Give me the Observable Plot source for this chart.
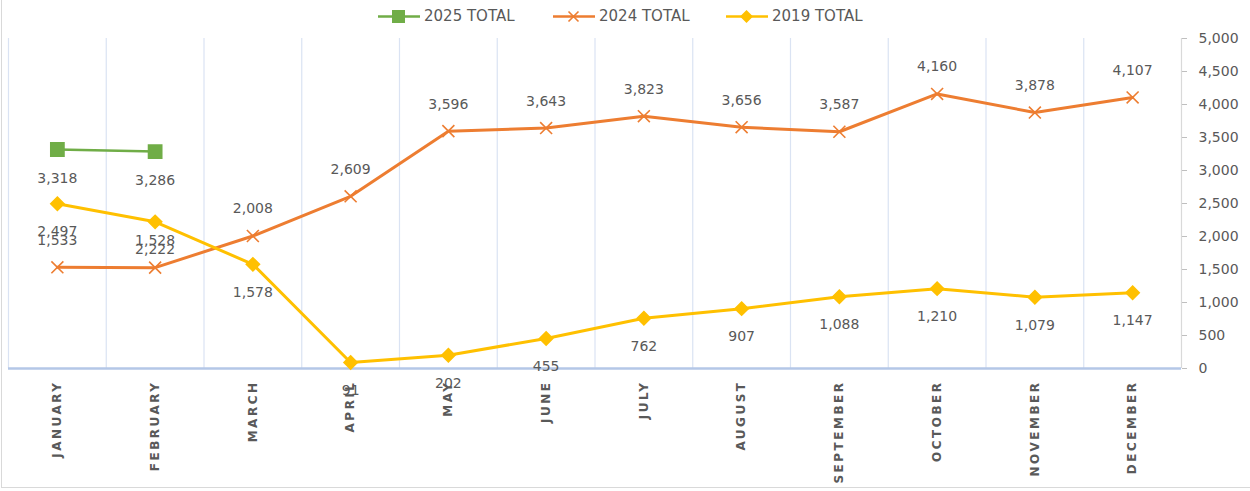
<!DOCTYPE html>
<html>
<head>
<meta charset="utf-8">
<script src="https://cdn.jsdelivr.net/npm/d3@7"></script>
<script src="https://cdn.jsdelivr.net/npm/@observablehq/plot@0.6"></script>
<style>
  html, body { margin: 0; padding: 0; background: #fff; }
  #wrap { position: relative; width: 1250px; height: 491px; overflow: hidden; font-family: "DejaVu Sans", sans-serif; }
  #frame { position: absolute; left: 1px; top: -2px; width: 1260px; height: 490px; border-left: 1px solid #d9d9d9; border-bottom: 1px solid #d9d9d9; box-sizing: border-box; pointer-events: none; }
  #legend { position: absolute; left: 0; top: 0; width: 1250px; height: 32px; }
  .item { position: absolute; top: 6px; height: 20px; display: flex; align-items: center; font-size: 15px; color: #595959; white-space: nowrap; }
  .item svg { margin-right: 4px; }
</style>
</head>
<body>
<div id="wrap">
  <div id="chart"></div>
  <div id="legend"></div>
  <div id="frame"></div>
</div>
<script>
const months = ["JANUARY","FEBRUARY","MARCH","APRIL","MAY","JUNE","JULY","AUGUST","SEPTEMBER","OCTOBER","NOVEMBER","DECEMBER"];
const total2025 = [3318, 3286];
const total2024 = [1533, 1528, 2008, 2609, 3596, 3643, 3823, 3656, 3587, 4160, 3878, 4107];
const total2019 = [2497, 2222, 1578, 91, 202, 455, 762, 907, 1088, 1210, 1079, 1147];
const yTicks = [0, 500, 1000, 1500, 2000, 2500, 3000, 3500, 4000, 4500, 5000];
const seriesNames = ["2025 TOTAL", "2024 TOTAL", "2019 TOTAL"];
const colors = ["#70ad47", "#ed7d31", "#ffc000"];

const fmt = d3.format(",");
const rows = (vals) => vals.map((v, i) => ({i, v}));
const d25 = rows(total2025), d24 = rows(total2024), d19 = rows(total2019);
const idx = d3.range(months.length);
const boundaries = d3.range(months.length).map(i => i - 0.5);

const chart = Plot.plot({
  width: 1250,
  height: 491,
  marginTop: 38,
  marginBottom: 123,
  marginLeft: 8,
  marginRight: 69,
  style: {fontFamily: "DejaVu Sans, sans-serif", color: "#595959", background: "transparent", overflow: "visible"},
  x: {domain: [-0.5, months.length - 0.5], axis: null},
  y: {domain: [0, 5000], axis: null},
  marks: [
    Plot.ruleX(boundaries, {y1: 0, y2: 5000, stroke: "#dae3f3", strokeWidth: 1.2}),
    Plot.ruleX([months.length - 0.5], {y1: 0, y2: 5000, stroke: "#d9d9d9", strokeWidth: 1.2}),
    Plot.ruleY([0], {x1: -0.5, x2: months.length - 0.5, stroke: "#b4c7e7", strokeWidth: 2.5}),
    Plot.axisY(yTicks, {anchor: "right", label: null, tickSize: 5, tickPadding: 12, tickFormat: fmt, stroke: "#bfbfbf", fill: "#595959", fontSize: 14}),
    Plot.text(idx, {x: d => d, y: 0, text: d => months[d], rotate: -90, textAnchor: "end", lineAnchor: "middle", dy: 12, fontSize: 12, fontWeight: "bold", fill: "#595959"}),
    // 2025
    Plot.line(d25, {x: "i", y: "v", stroke: colors[0], strokeWidth: 2.5}),
    Plot.dot(d25, {x: "i", y: "v", symbol: "square", r: 7.5, fill: colors[0], stroke: colors[0]}),
    // 2024
    Plot.line(d24, {x: "i", y: "v", stroke: colors[1], strokeWidth: 3}),
    Plot.dot(d24, {x: "i", y: "v", symbol: "times", r: 5.5, stroke: colors[1], strokeWidth: 1.6}),
    // 2019
    Plot.line(d19, {x: "i", y: "v", stroke: colors[2], strokeWidth: 3}),
    Plot.dot(d19, {x: "i", y: "v", symbol: "diamond2", r: 6, fill: colors[2], stroke: colors[2]}),
    // labels
    Plot.text(d25, {x: "i", y: "v", text: d => fmt(d.v), dy: 29, fontSize: 14, fill: "#595959"}),
    Plot.text(d24, {x: "i", y: "v", text: d => fmt(d.v), dy: -27, fontSize: 14, fill: "#595959"}),
    Plot.text(d19, {x: "i", y: "v", text: d => fmt(d.v), dy: 28, fontSize: 14, fill: "#595959"})
  ]
});
// widen the letter spacing of the month labels, as in the reference
d3.select(chart).selectAll("text").filter(function () { return months.includes(this.textContent); })
  .style("letter-spacing", "2.5px");
document.getElementById("chart").appendChild(chart);

// legend
const legendPos = [378, 553, 726];
const symbols = [
  '<rect x="14" y="3" width="13" height="13" fill="#70ad47"/>',
  '<path d="M15.5,4.5 L25.5,14.5 M25.5,4.5 L15.5,14.5" stroke="#ed7d31" stroke-width="1.6"/>',
  '<path d="M20.5,3 L27,9.5 L20.5,16 L14,9.5 Z" fill="#ffc000"/>'
];
const legend = document.getElementById("legend");
seriesNames.forEach((name, k) => {
  const el = document.createElement("div");
  el.className = "item";
  el.style.left = legendPos[k] + "px";
  el.innerHTML = `<svg width="42" height="19"><line x1="0" x2="42" y1="9.5" y2="9.5" stroke="${colors[k]}" stroke-width="2.5"/>${symbols[k]}</svg><span>${name}</span>`;
  legend.appendChild(el);
});
</script>
</body>
</html>
